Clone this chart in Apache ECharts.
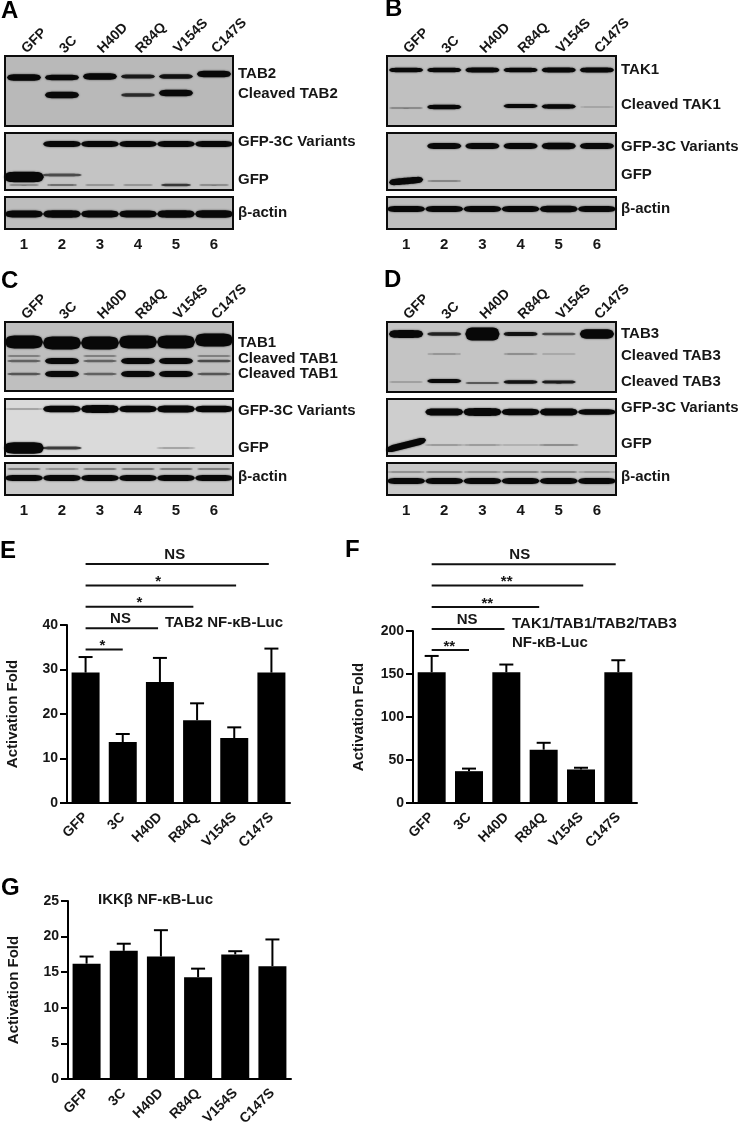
<!DOCTYPE html>
<html>
<head>
<meta charset="utf-8">
<title>3C cleavage blots</title>
<script src="https://cdn.jsdelivr.net/npm/echarts@6/dist/echarts.min.js"></script>
<style>
html, body { margin: 0; padding: 0; background: #fff; }
#chart { width: 742px; height: 1129px; }
</style>
</head>
<body>
<div id="chart"></div>
<script>
var variants = ['GFP', '3C', 'H40D', 'R84Q', 'V154S', 'C147S'];
var laneNumbers = ['1', '2', '3', '4', '5', '6'];

// bar values
var tab2Mean = [29.3, 13.7, 27.2, 18.6, 14.6, 29.3];
var tab2Upper = [32.8, 15.5, 32.6, 22.4, 17, 34.7];
var allMean = [152, 37, 152, 62, 39, 152];
var allUpper = [171, 40, 161, 70, 41, 166];
var ikkMean = [16.2, 18, 17.2, 14.3, 17.5, 15.85];
var ikkUpper = [17.2, 19, 20.9, 15.5, 17.95, 19.6];

// significance brackets, all start at GFP
var sigTextE = ['*', 'NS', '*', '*', 'NS'];
var sigEndE = [1, 1.95, 2.9, 4.05, 4.93];
var sigLevelE = [34.5, 39.25, 44.1, 48.9, 53.7];
var sigLabelAtE = [0.45, 0.94, 1.45, 1.95, 2.4];
var sigTextF = ['**', 'NS', '**', '**', 'NS'];
var sigEndF = [1, 1.95, 2.88, 4.06, 4.93];
var sigLevelF = [177.9, 202.3, 228, 252.8, 277.7];
var sigLabelAtF = [0.47, 0.95, 1.49, 2.01, 2.36];

// band strength per lane (1 = normal band)
var aTab2 = [1, 0.85, 1, 0.65, 0.7, 1];
var aCleaved = [0, 1, 0, 0.55, 1, 0];
var aVariants = [0, 1, 1, 1, 1, 1];
var aGfp = [1.6, 0.4, 0, 0, 0, 0];
var aGfpLow = [0.2, 0.25, 0.15, 0.15, 0.5, 0.2];
var aActin = [1, 1.05, 1, 1, 1.05, 1.1];

var bTak1 = [0.9, 0.9, 1, 0.9, 1, 1];
var bCleaved = [0.2, 0.9, 0, 0.8, 0.9, 0.05];
var bVariants = [0, 1, 1, 1, 1.1, 1];
var bGfp = [1.1, 0.15, 0, 0, 0, 0];
var bActin = [1, 1, 1, 1, 1.1, 1];

var cTab1 = [2, 2, 2, 2, 2, 2];
var cCleavedFaint = [0.25, 0, 0.25, 0, 0, 0.25];
var cCleavedUpper = [0.3, 1, 0.3, 1, 1, 0.4];
var cCleavedLower = [0.35, 1, 0.3, 1, 1, 0.35];
var cVariants = [0.1, 1, 1.2, 1, 1.1, 1];
var cGfp = [1.9, 0.5, 0, 0, 0.1, 0];
var cActinUpper = [0.3, 0.2, 0.3, 0.3, 0.3, 0.3];
var cActin = [1, 1, 1, 1, 1, 1];

var dTab3 = [1.3, 0.6, 2.2, 0.7, 0.4, 1.6];
var dCleavedUpper = [0, 0.15, 0, 0.2, 0.12, 0];
var dCleavedLower = [0.1, 0.8, 0.35, 0.7, 0.65, 0];
var dVariants = [0, 1.2, 1.3, 1.1, 1.2, 0.9];
var dGfp = [1.2, 0.1, 0.1, 0.05, 0.15, 0];
var dActinUpper = [0.2, 0.25, 0.2, 0.25, 0.25, 0.15];
var dActin = [1, 1, 1, 1, 1, 1];

var font = '"Liberation Sans", Arial, sans-serif';
var ink = '#161616';

var blots = [
  { left: 5, top: 56, width: 228, height: 70, bg: '#b9b9b9', axis: 'top', rows: [
    { y: 21, vals: aTab2, size: 6.5, dy: [0.5, 0.5, -0.5, -0.5, -0.5, -3] },
    { y: 39, vals: aCleaved, size: 6.5, dy: [0, 0, 0, 0, -2, 0] }
  ] },
  { left: 5, top: 133, width: 228, height: 57, bg: '#c4c4c4', rows: [
    { y: 11, vals: aVariants, size: 6, wide: 1 },
    { y: 44, vals: aGfp, size: 6.5, wide: 1.05, dy: [0, -2, 0, 0, 0, 0] },
    { y: 52, vals: aGfpLow, size: 5, wide: 0.8 }
  ] },
  { left: 5, top: 197, width: 228, height: 32, bg: '#bdbdbd', axis: 'bottom', rows: [
    { y: 17, vals: aActin, size: 7, wide: 1 }
  ] },

  { left: 387, top: 56, width: 229, height: 70, bg: '#c0c0c0', axis: 'top', rows: [
    { y: 14, vals: bTak1, size: 5 },
    { y: 51, vals: bCleaved, size: 5, dy: [1, 0, 0, -1, -0.5, 0] }
  ] },
  { left: 387, top: 133, width: 229, height: 57, bg: '#c2c2c2', rows: [
    { y: 13, vals: bVariants, size: 6 },
    { y: 48, vals: bGfp, size: 6, tilt: -1.5 }
  ] },
  { left: 387, top: 197, width: 229, height: 32, bg: '#bfbfbf', axis: 'bottom', rows: [
    { y: 12, vals: bActin, size: 6, wide: 1 }
  ] },

  { left: 5, top: 322, width: 228, height: 69, bg: '#bfbfbf', axis: 'top', rows: [
    { y: 20, vals: cTab1, size: 6.5, wide: 1, dy: [0, 1, 1, 0, 0, -2] },
    { y: 34, vals: cCleavedFaint, size: 4 },
    { y: 39, vals: cCleavedUpper, size: 6 },
    { y: 52, vals: cCleavedLower, size: 6 }
  ] },
  { left: 5, top: 399, width: 228, height: 57, bg: '#dadada', rows: [
    { y: 10, vals: cVariants, size: 6.5, wide: 1 },
    { y: 49, vals: cGfp, size: 6, wide: 1.05 }
  ] },
  { left: 5, top: 463, width: 228, height: 32, bg: '#cacaca', axis: 'bottom', rows: [
    { y: 6, vals: cActinUpper, size: 4 },
    { y: 15, vals: cActin, size: 6, wide: 1 }
  ] },

  { left: 387, top: 322, width: 229, height: 70, bg: '#c4c4c4', axis: 'top', rows: [
    { y: 12, vals: dTab3, size: 6 },
    { y: 32, vals: dCleavedUpper, size: 4 },
    { y: 60, vals: dCleavedLower, size: 5, dy: [0, -1, 1, 0, 0, 0] }
  ] },
  { left: 387, top: 399, width: 229, height: 57, bg: '#cecece', rows: [
    { y: 13, vals: dVariants, size: 6, wide: 1 },
    { y: 46, vals: dGfp, size: 6, wide: 1.05, tilt: -5 }
  ] },
  { left: 387, top: 463, width: 229, height: 32, bg: '#c8c8c8', axis: 'bottom', rows: [
    { y: 9, vals: dActinUpper, size: 4, wide: 1 },
    { y: 18, vals: dActin, size: 6, wide: 1 }
  ] }
];

var bars = [
  { left: 67, top: 625, width: 223, height: 178, max: 40, step: 10, mean: tab2Mean, upper: tab2Upper,
    sigText: sigTextE, sigEnd: sigEndE, sigLevel: sigLevelE, sigLabelAt: sigLabelAtE },
  { left: 413, top: 631, width: 224, height: 172, max: 200, step: 50, mean: allMean, upper: allUpper,
    sigText: sigTextF, sigEnd: sigEndF, sigLevel: sigLevelF, sigLabelAt: sigLabelAtF },
  { left: 68, top: 901, width: 223, height: 178, max: 25, step: 5, mean: ikkMean, upper: ikkUpper }
];

// left edge, vertical centre, text
var rowLabels = [
  [238, 75, 'TAB2'], [238, 95, 'Cleaved TAB2'], [238, 143, 'GFP-3C Variants'], [238, 181, 'GFP'], [238, 214, 'β-actin'],
  [621, 71, 'TAK1'], [621, 106, 'Cleaved TAK1'], [621, 148, 'GFP-3C Variants'], [621, 176, 'GFP'], [621, 210, 'β-actin'],
  [238, 344, 'TAB1'], [238, 360, 'Cleaved TAB1'], [238, 375, 'Cleaved TAB1'], [238, 412, 'GFP-3C Variants'], [238, 449, 'GFP'], [238, 478, 'β-actin'],
  [621, 335, 'TAB3'], [621, 357, 'Cleaved TAB3'], [621, 383, 'Cleaved TAB3'], [621, 409, 'GFP-3C Variants'], [621, 445, 'GFP'], [621, 478, 'β-actin'],
  [165, 624, 'TAB2 NF-κB-Luc'], [512, 625, 'TAK1/TAB1/TAB2/TAB3'], [512, 644, 'NF-κB-Luc'], [98, 901, 'IKKβ NF-κB-Luc']
];
var panelLetters = [
  [1, 13, 'A'], [385, 11, 'B'], [1, 283, 'C'], [384, 282, 'D'], [0, 553, 'E'], [345, 552, 'F'], [1, 890, 'G']
];

var grids = [], xAxes = [], yAxes = [], series = [], graphics = [];

function renderBand(params, api) {
  var p = api.coord([api.value(0), api.value(1)]);
  var strength = api.value(2);
  var half = api.size([1, 0])[0] / 2 * api.value(4);
  var thick = api.value(3) * Math.min(strength, 2.2) / 2;
  if (strength < 0.5) thick = api.value(3) * (0.25 + strength * 0.5) / 2;
  var tilt = api.value(5);
  var upper = [], lower = [];
  for (var i = -10; i <= 10; i++) {
    var t = i / 10;
    var h = thick * Math.sqrt(1 - Math.pow(Math.abs(t), 6));
    upper.push([p[0] + t * half, p[1] + tilt * t - h]);
    lower.unshift([p[0] + t * half, p[1] + tilt * t + h]);
  }
  var alpha = Math.min(1, 0.12 + strength * 1.1);
  return {
    type: 'polygon',
    shape: { points: upper.concat(lower) },
    style: { fill: 'rgba(8,8,8,' + alpha + ')', shadowBlur: 2, shadowColor: 'rgba(8,8,8,' + alpha * 0.7 + ')' }
  };
}

function renderError(params, api) {
  var x = api.coord([api.value(0), 0])[0];
  var y0 = api.coord([api.value(0), api.value(1)])[1];
  var y1 = api.coord([api.value(0), api.value(2)])[1];
  var st = { stroke: '#000', lineWidth: 2 };
  return {
    type: 'group',
    children: [
      { type: 'line', shape: { x1: x, y1: y0, x2: x, y2: y1 }, style: st },
      { type: 'line', shape: { x1: x - 7, y1: y1, x2: x + 7, y2: y1 }, style: st }
    ]
  };
}

function bracketSeries(bar, gridIndex) {
  var data = bar.sigText.map(function (txt, i) {
    return [bar.sigEnd[i], bar.sigLevel[i], bar.sigLabelAt[i], txt];
  });
  return {
    type: 'custom',
    xAxisIndex: gridIndex,
    yAxisIndex: gridIndex,
    silent: true,
    dimensions: ['end', 'level', 'labelAt', { name: 'txt', type: 'ordinal' }],
    data: data,
    renderItem: function (params, api) {
      var item = data[params.dataIndex];
      var pitch = api.size([1, 0])[0];
      var x0 = api.coord([0, 0])[0];
      var y = api.coord([0, item[1]])[1];
      return {
        type: 'group',
        children: [
          { type: 'line', shape: { x1: x0, y1: y, x2: x0 + item[0] * pitch, y2: y }, style: { stroke: '#111', lineWidth: 2 } },
          { type: 'text', style: {
            x: x0 + item[2] * pitch,
            y: y - 2 + (item[3] === 'NS' ? 0 : 6),
            text: item[3],
            align: 'center',
            verticalAlign: 'bottom',
            font: 'bold 15px ' + font,
            fill: ink
          } }
        ]
      };
    }
  };
}

blots.forEach(function (b) {
  var idx = grids.length;
  grids.push({ show: true, left: b.left, top: b.top, width: b.width, height: b.height,
    backgroundColor: b.bg, borderColor: '#0c0c0c', borderWidth: 2 });
  xAxes.push({
    type: 'category', gridIndex: idx, data: b.axis === 'bottom' ? laneNumbers : variants,
    position: b.axis === 'top' ? 'top' : 'bottom',
    axisLine: { show: false }, axisTick: { show: false },
    axisLabel: b.axis === 'top'
      ? { show: true, interval: 0, rotate: 45, margin: 5, color: ink, fontWeight: 'bold', fontSize: 14, fontFamily: font }
      : { show: b.axis === 'bottom', interval: 0, margin: 8, color: ink, fontWeight: 'bold', fontSize: 15, fontFamily: font }
  });
  yAxes.push({ type: 'value', gridIndex: idx, inverse: true, min: 0, max: b.height, show: false, splitLine: { show: false } });
  var data = [];
  b.rows.forEach(function (r) {
    r.vals.forEach(function (v, lane) {
      if (v <= 0) return;
      data.push([lane, r.y + (r.dy ? r.dy[lane] : 0), v, r.size, r.wide || 0.9, r.tilt && lane === 0 ? r.tilt : 0]);
    });
  });
  series.push({ type: 'custom', xAxisIndex: idx, yAxisIndex: idx, silent: true, renderItem: renderBand, data: data });
});

bars.forEach(function (b) {
  var idx = grids.length;
  grids.push({ left: b.left, top: b.top, width: b.width, height: b.height });
  xAxes.push({
    type: 'category', gridIndex: idx, data: variants,
    axisLine: { lineStyle: { color: '#000', width: 2 } },
    axisTick: { alignWithLabel: true, length: 6, lineStyle: { color: '#000', width: 2 } },
    axisLabel: { interval: 0, rotate: 45, margin: 12, color: ink, fontWeight: 'bold', fontSize: 14, fontFamily: font }
  });
  yAxes.push({
    type: 'value', gridIndex: idx, min: 0, max: b.max, interval: b.step,
    name: 'Activation Fold', nameLocation: 'middle', nameRotate: 90, nameGap: 47,
    nameTextStyle: { color: ink, fontWeight: 'bold', fontSize: 15, fontFamily: font },
    splitLine: { show: false },
    axisLine: { show: true, lineStyle: { color: '#000', width: 2 } },
    axisTick: { show: true, length: 7, lineStyle: { color: '#000', width: 2 } },
    axisLabel: { margin: 9, color: ink, fontWeight: 'bold', fontSize: 14, fontFamily: font }
  });
  series.push({ type: 'bar', xAxisIndex: idx, yAxisIndex: idx, barWidth: 28, silent: true,
    itemStyle: { color: '#000' }, data: b.mean });
  series.push({ type: 'custom', xAxisIndex: idx, yAxisIndex: idx, silent: true, renderItem: renderError,
    data: b.mean.map(function (m, i) { return [i, m, b.upper[i]]; }) });
  if (b.sigText) series.push(bracketSeries(b, idx));
});

rowLabels.forEach(function (l) {
  graphics.push({ type: 'text', left: l[0], top: l[1] - 9, style: {
    text: l[2], font: 'bold 15px ' + font, fill: ink } });
});
panelLetters.forEach(function (l) {
  graphics.push({ type: 'text', left: l[0], top: l[1] - 14, style: {
    text: l[2], font: 'bold 24px ' + font, fill: '#000' } });
});

var myChart = echarts.init(document.getElementById('chart'));
myChart.setOption({
  animation: false,
  backgroundColor: '#fff',
  textStyle: { fontFamily: font },
  grid: grids,
  xAxis: xAxes,
  yAxis: yAxes,
  series: series,
  graphic: graphics
});
</script>
</body>
</html>
